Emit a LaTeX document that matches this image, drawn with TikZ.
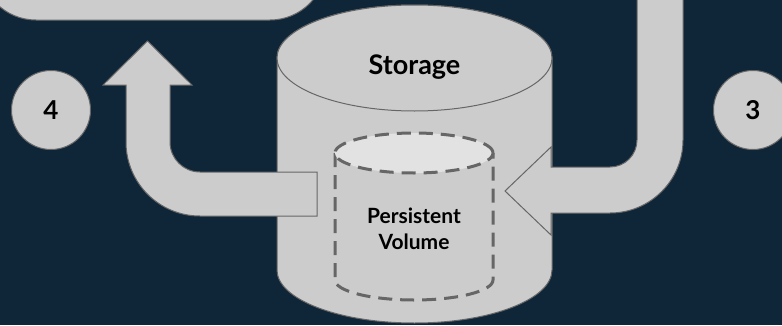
\documentclass[tikz,border=0pt]{standalone}
\usepackage{fontspec}
\setmainfont{Lato}
\definecolor{bgnavy}{HTML}{0F2639}
\definecolor{shapegray}{HTML}{CCCCCC}
\definecolor{lightgray}{HTML}{E2E2E2}
\definecolor{edgegray}{HTML}{666666}
\begin{document}
\begin{tikzpicture}[x=1pt,y=1pt,
  shapestyle/.style={fill=shapegray,draw=edgegray,line width=1pt,line join=miter},
  dashstyle/.style={draw=edgegray,line width=3pt,dash pattern=on 14pt off 8pt},
  numcircle/.style={circle,fill=shapegray,draw=edgegray,line width=1pt,minimum size=79pt,inner sep=0pt,font=\bfseries\fontsize{26}{30}\selectfont},
  labeltext/.style={font=\bfseries\fontsize{27}{30}\selectfont,text=black},
  pvtext/.style={font=\bfseries\fontsize{21}{26}\selectfont,text=black,align=center}]
\fill[bgnavy] (0,0) rectangle (782,325);
\useasboundingbox (0,0) rectangle (782,325);
% top-left box (cut off)
\draw[shapestyle,rounded corners=56pt] (-20,305) -- (326,305) -- (326,420) -- (-20,420) -- cycle;
% Storage cylinder
\draw[shapestyle] (277,267) -- (277,55) arc[start angle=180,end angle=360,x radius=137.5,y radius=53] -- (552,267) arc[start angle=0,end angle=180,x radius=137.5,y radius=53] -- cycle;
\draw[shapestyle] (414.5,267) ellipse[x radius=137.5,y radius=53];
\node[labeltext] (storage) at (414.5,258) {Storage};
% arrow 4 (from volume up to box)
\draw[shapestyle] (317,153) -- (200,153) arc[start angle=270,end angle=180,radius=30] -- (170,240) -- (192,240) -- (147.5,284) -- (103,240) -- (126,240) -- (126,183) arc[start angle=180,end angle=270,radius=74] -- (317,109) -- cycle;
% arrow 3 (from top down into volume)
\draw[shapestyle] (637,330) -- (637,185) arc[start angle=0,end angle=-90,radius=27] -- (551,158) -- (551,178) -- (505,134) -- (551,90) -- (551,112) -- (610,112) arc[start angle=-90,end angle=0,radius=73] -- (683,330) -- cycle;
% Persistent volume (dashed cylinder)
\fill[shapegray] (335,172) -- (335,45) arc[start angle=180,end angle=360,x radius=79,y radius=20] -- (493,172) -- cycle;
\draw[dashstyle] (335,172) -- (335,45) arc[start angle=180,end angle=360,x radius=79,y radius=20] -- (493,172);
\draw[dashstyle,fill=lightgray] (414,172) ellipse[x radius=79,y radius=20];
\node[pvtext] (pv) at (414,96) {Persistent\\Volume};
% step circles
\node[numcircle] (n4) at (51,215) {4};
\node[numcircle] (n3) at (753,215) {3};
\end{tikzpicture}
\end{document}
